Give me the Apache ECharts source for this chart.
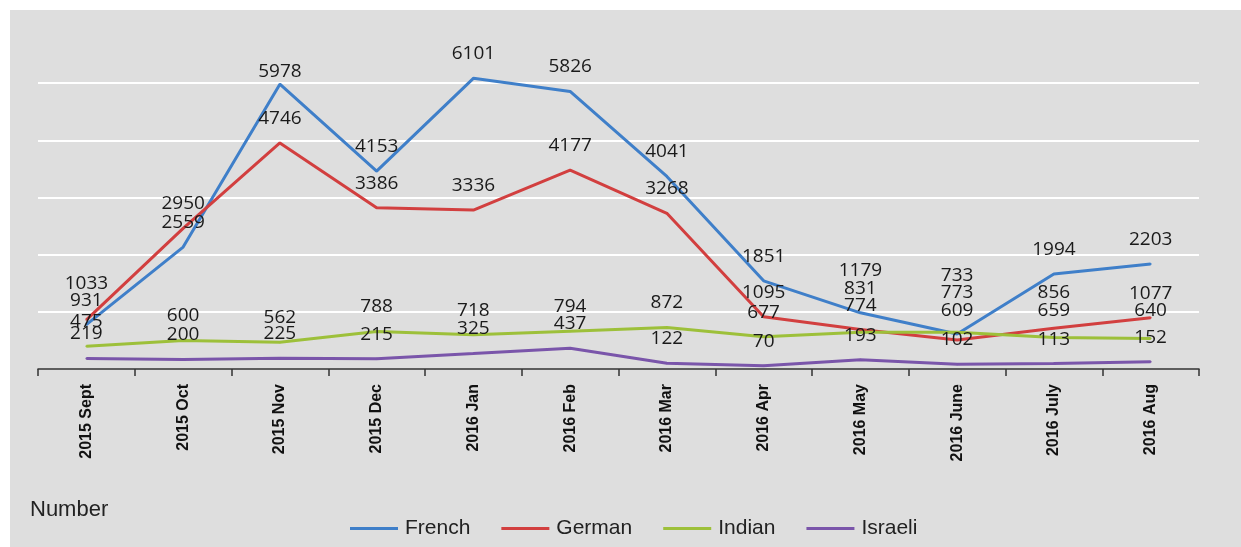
<!DOCTYPE html>
<html>
<head>
<meta charset="utf-8">
<script src="https://cdn.jsdelivr.net/npm/echarts@6/dist/echarts.min.js"></script>
<style>
html,body{margin:0;padding:0;background:#ffffff;}
#c{width:1241px;height:547px;}
</style>
</head>
<body>
<div id="c"></div>
<script>
const categories = ['2015 Sept','2015 Oct','2015 Nov','2015 Dec','2016 Jan','2016 Feb','2016 Mar','2016 Apr','2016 May','2016 June','2016 July','2016 Aug'];
const french  = [931, 2559, 5978, 4153, 6101, 5826, 4041, 1851, 1179, 733, 1994, 2203];
const german  = [1033, 2950, 4746, 3386, 3336, 4177, 3268, 1095, 831, 609, 856, 1077];
const indian  = [475, 600, 562, 788, 718, 794, 872, 677, 774, 773, 659, 640];
const israeli = [219, 200, 225, 215, 325, 437, 122, 70, 193, 102, 113, 152];
const seriesNames = ['French','German','Indian','Israeli'];
const colors = ['#3f7fc9','#d23f3f','#9dc03a','#7a55aa'];

// extra upward label lift in px (by category index), mimicking the reference's hand-placed labels
const labelLift = {
  French: {2:-12, 8:18, 9:34},
  German: {0:12, 8:16, 9:5, 10:11},
  Indian: {8:2, 9:15, 10:3, 11:3},
  Israeli: {}
};
const BASE_DIST = 14;

const chart = echarts.init(document.getElementById('c'), null, {renderer:'canvas'});
const labelFont = {fontFamily:'Open Sans, Noto Sans, sans-serif', fontSize:19, color:'#1a1a1a'};

function mkSeries(name, data, color){
  const lift = labelLift[name] || {};
  return {
    name: name, type:'line', data: data.map((v,i)=>{
      const d = lift[i];
      return d ? {value:v, label:{show:true, position:'top', distance: BASE_DIST + d}} : v;
    }),
    symbol:'circle', symbolSize:2, showSymbol:true, smooth:false,
    lineStyle:{width:3, color:color}, itemStyle:{color:color},
    label:{show:true, position:'top', distance:BASE_DIST, ...labelFont},
    labelLayout:{hideOverlap:false},
    z: 3
  };
}

chart.setOption({
  backgroundColor:'#ffffff',
  animation:false,
  color: colors,
  graphic:[
    {type:'rect', left:10, top:10, z:-10, shape:{width:1231, height:537}, style:{fill:'#dedede'}},
    {type:'text', left:30, top:499, style:{text:'Number', font:'22px "Liberation Sans", Arial, sans-serif', fill:'#222'}}
  ],
  grid:{left:38, right:42, top:26, bottom:178, containLabel:false},
  legend:{
    data: seriesNames, bottom:3, left:345,
    itemWidth:48, itemHeight:3, itemGap:31, icon:'rect',
    textStyle:{fontFamily:'"Liberation Sans", Arial, sans-serif', fontSize:21, color:'#222', padding:[0,0,0,2]}
  },
  xAxis:{
    type:'category', data:categories, boundaryGap:true,
    axisLine:{show:true, lineStyle:{color:'#333', width:1.5}},
    axisTick:{show:true, length:7, lineStyle:{color:'#333', width:1.5}},
    axisLabel:{rotate:90, margin:15, fontFamily:'Liberation Sans, Arial, sans-serif', fontWeight:'bold', fontSize:16, color:'#111', interval:0},
    splitLine:{show:false}
  },
  yAxis:{
    type:'value', min:0, max:7200, interval:1200,
    axisLine:{show:false}, axisTick:{show:false}, axisLabel:{show:false},
    splitLine:{show:true, showMinLine:false, showMaxLine:false, lineStyle:{color:'#ffffff', width:2}}
  },
  series:[
    mkSeries('French', french, colors[0]),
    mkSeries('German', german, colors[1]),
    mkSeries('Indian', indian, colors[2]),
    mkSeries('Israeli', israeli, colors[3])
  ]
});
</script>
</body>
</html>
